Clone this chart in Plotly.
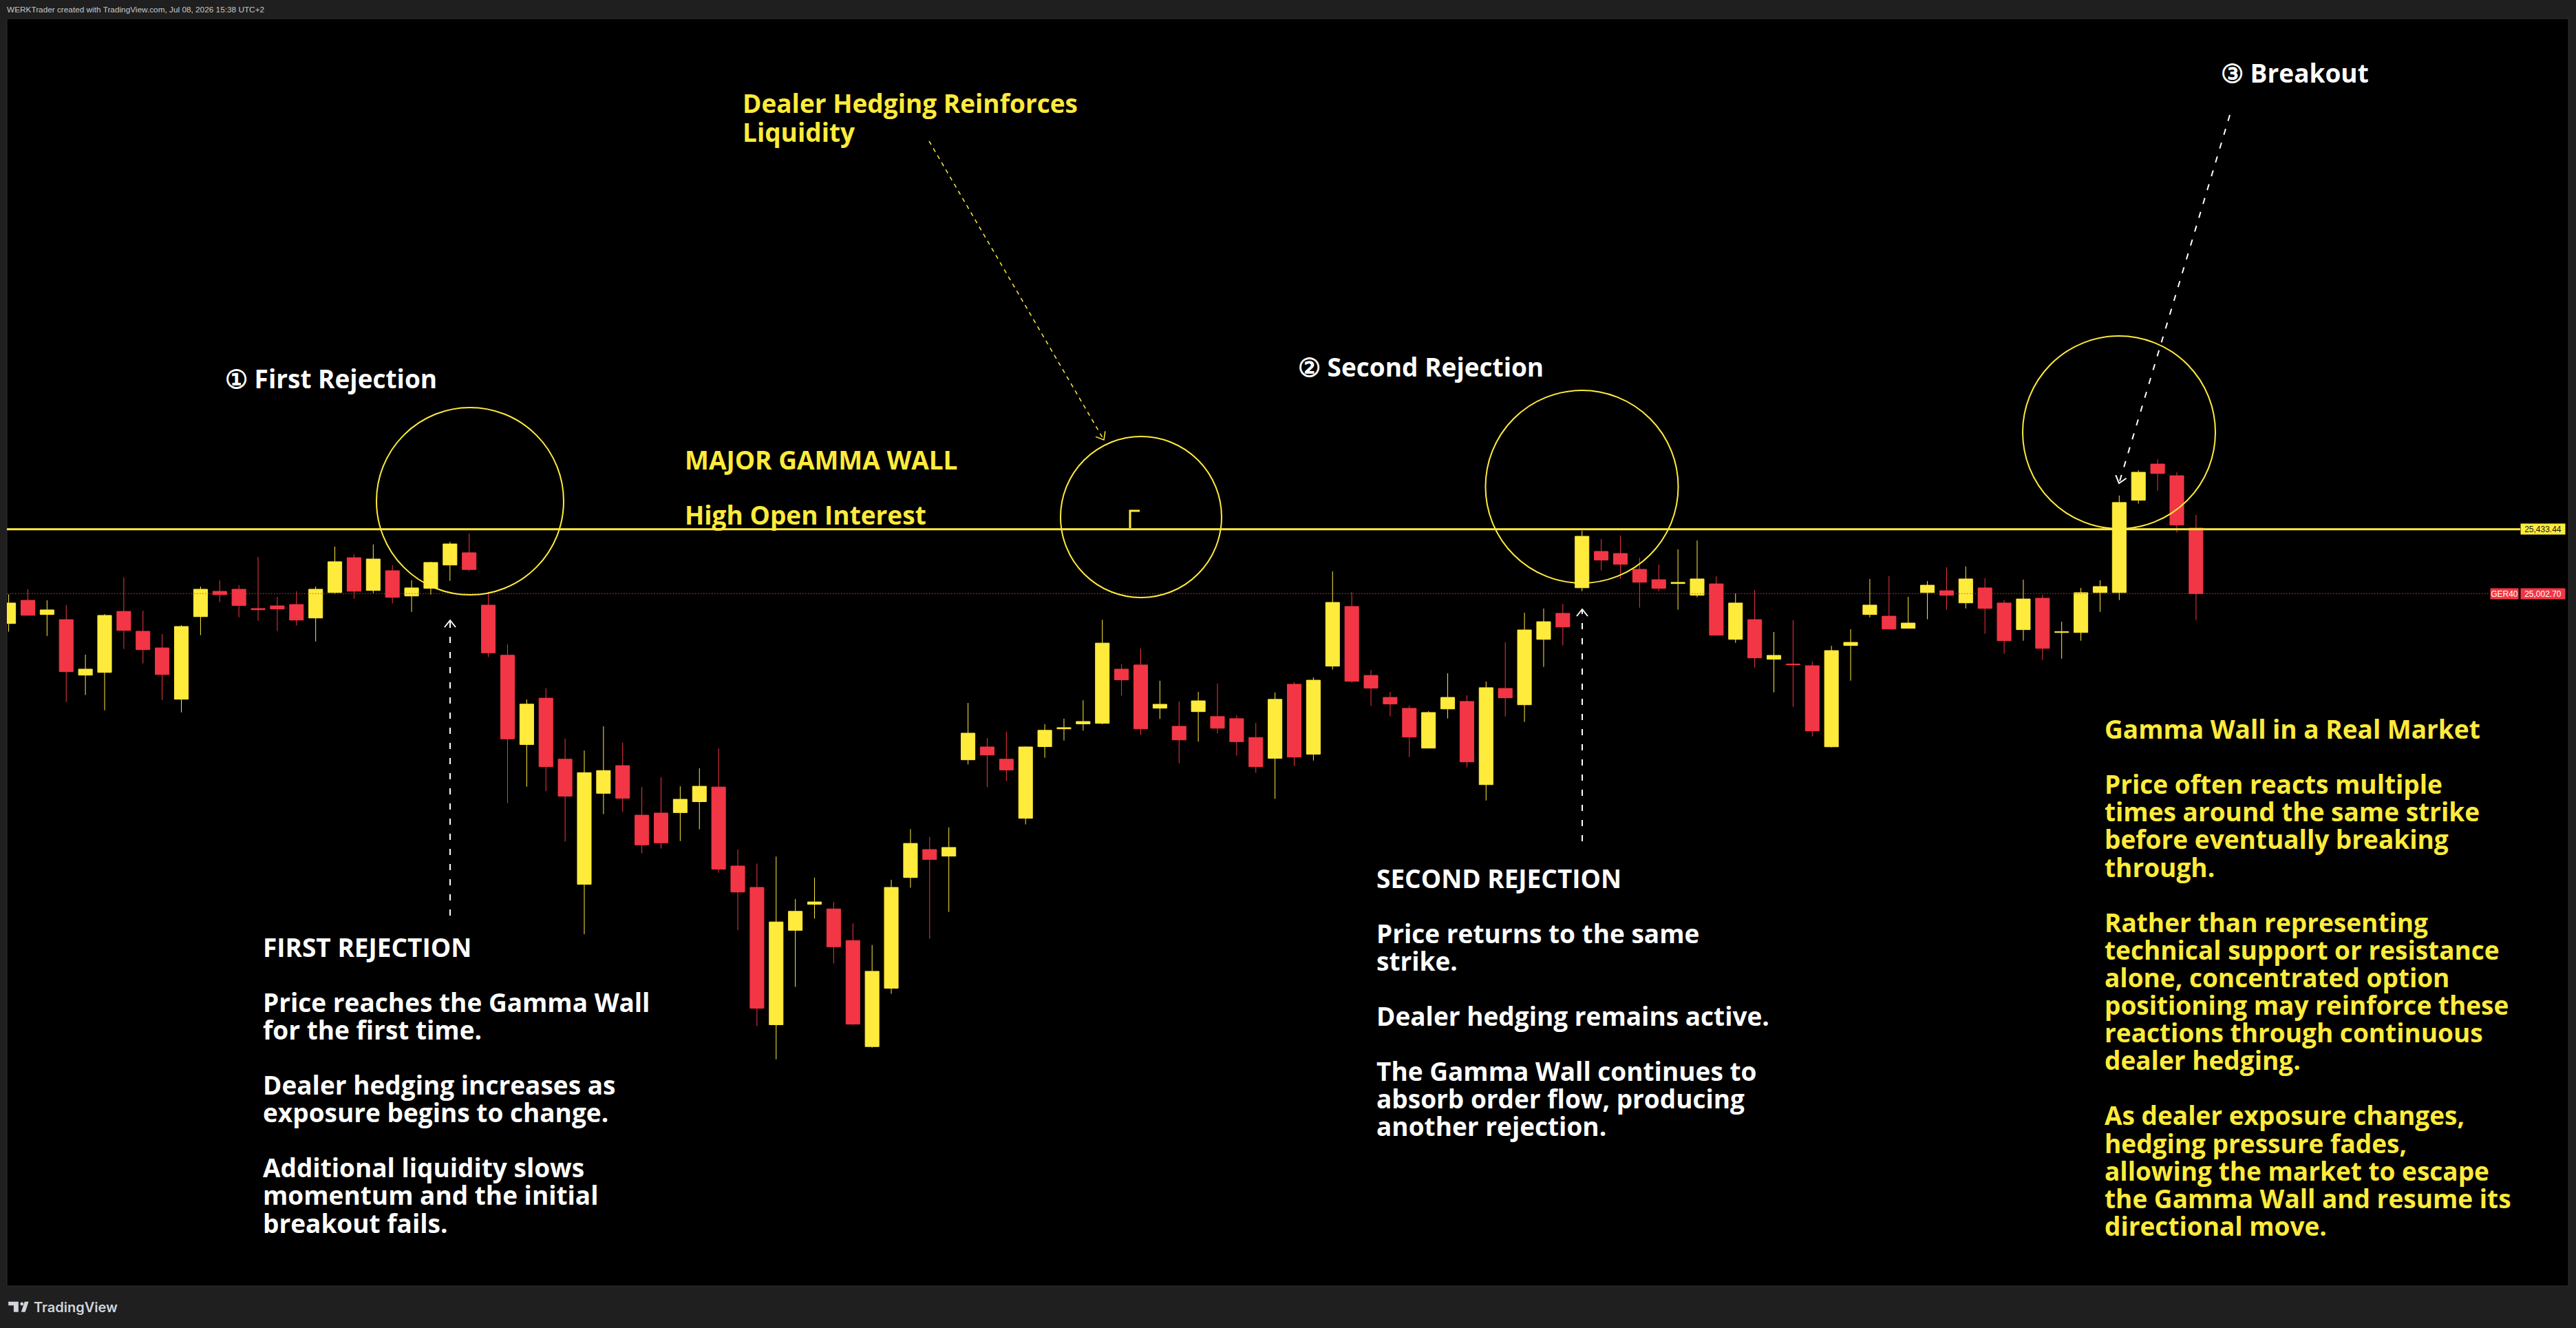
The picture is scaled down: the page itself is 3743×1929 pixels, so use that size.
import plotly.graph_objects as go

# ---------------- data ----------------
idx = list(range(115))
opens = [24803, 24958, 24863, 24829, 24458, 24476, 24884, 24751, 24640, 24297,
         24849, 25018, 25032, 24903, 24921, 24930, 24840, 25010, 25243, 25024,
         25156, 24987, 25038, 25194, 25276, 24926, 24591, 23994, 24304, 23896,
         23060, 23668, 23853, 23522, 23536, 23539, 23612, 23710, 23182, 23039,
         22121, 22752, 22926, 22895, 22684, 21975, 22365, 23105, 23292, 23248,
         23892, 23978, 23896, 23501, 23980, 24099, 24132, 24136, 24498, 24526,
         24237, 24116, 24214, 24181, 24167, 24041, 23902, 24397, 23929, 24518,
         24917, 24456, 24309, 24236, 23970, 24232, 24282, 23726, 24369, 24260,
         24697, 24871, 25042, 25285, 25271, 25165, 25096, 25070, 24992, 25068,
         24697, 24829, 24564, 24532, 24521, 23979, 24656, 24863, 24852, 24771,
         25010, 25022, 24941, 25041, 24940, 24762, 24972, 24743, 24743, 25010,
         25010, 25627, 25869, 25791, 25441]
highs = [24998, 25032, 24958, 24926, 24595, 24866, 25110, 24889, 24732, 24792,
         25050, 25092, 25059, 25248, 24981, 25018, 25050, 25317, 25266, 25331,
         25193, 25092, 25216, 25349, 25405, 25016, 24663, 24295, 24370, 24034,
         23954, 24116, 24006, 23710, 23776, 23715, 23835, 23968, 23292, 23198,
         23245, 22961, 23104, 22942, 22799, 22654, 23090, 23429, 23376, 23440,
         24272, 24037, 24079, 23982, 24130, 24167, 24290, 24828, 24531, 24635,
         24420, 24282, 24346, 24401, 24189, 24138, 24342, 24411, 24443, 25151,
         25013, 24493, 24346, 24254, 24217, 24470, 24323, 24415, 24677, 24875,
         24903, 24935, 25423, 25368, 25391, 25243, 25197, 25299, 25358, 25119,
         25004, 25027, 24746, 24825, 24548, 24654, 24765, 25101, 25119, 24981,
         25087, 25179, 25184, 25105, 24958, 25096, 24995, 24815, 25041, 25092,
         25658, 25828, 25901, 25814, 25529]
lows = [24748, 24856, 24720, 24279, 24325, 24223, 24633, 24536, 24292, 24209,
        24725, 24946, 24845, 24822, 24753, 24789, 24683, 25001, 24969, 25006,
        24937, 24881, 24996, 25088, 25152, 24579, 23602, 23712, 23682, 23346,
        22726, 23529, 23543, 23266, 23299, 23349, 23428, 23137, 22752, 22111,
        21890, 22374, 22830, 22531, 22120, 21968, 22328, 23037, 22696, 22875,
        23861, 23709, 23750, 23460, 23906, 24021, 24087, 24130, 24321, 24058,
        24165, 23869, 24013, 24068, 23920, 23805, 23631, 23850, 23887, 24495,
        24407, 24251, 24182, 23910, 23968, 24168, 23841, 23620, 24182, 24145,
        24513, 24656, 25019, 25158, 25102, 24909, 25019, 24895, 24978, 24722,
        24674, 24509, 24343, 24246, 24048, 23975, 24421, 24844, 24764, 24769,
        24831, 24895, 24904, 24734, 24601, 24688, 24559, 24568, 24688, 24881,
        24960, 25604, 25691, 25411, 24826]
closes = [24940, 24858, 24894, 24481, 24498, 24857, 24757, 24628, 24462, 24783,
          25032, 24996, 24923, 24895, 24900, 24826, 25032, 25216, 25019, 25234,
          24978, 25041, 25211, 25335, 25164, 24607, 24032, 24264, 23846, 23649,
          23806, 23820, 23635, 23323, 23337, 23628, 23715, 23161, 23008, 22231,
          22808, 22879, 22942, 22642, 22125, 22478, 23039, 23333, 23226, 23306,
          24070, 23924, 23824, 23978, 24089, 24107, 24148, 24672, 24426, 24099,
          24263, 24025, 24286, 24103, 24013, 23846, 24296, 23910, 24424, 24944,
          24417, 24371, 24265, 24044, 24208, 24309, 23878, 24374, 24306, 24760,
          24815, 24780, 25386, 25227, 25199, 25079, 25038, 25078, 25101, 24725,
          24940, 24573, 24590, 24527, 24085, 24622, 24677, 24926, 24766, 24806,
          25059, 24992, 25101, 24904, 24688, 24967, 24637, 24748, 25009, 25050,
          25612, 25814, 25806, 25461, 25002.70]

WALL_PRICE = 25433.44
LAST_PRICE = 25002.70
SYMBOL = "GER40"
wall_label = "25,433.44"
last_label = "25,002.70"
header_text = "WERKTrader created with TradingView.com, Jul 08, 2026 15:38 UTC+2"

left_lines = [(0, "FIRST REJECTION"), (2, "Price reaches the Gamma Wall"), (3, "for the first time."),
              (5, "Dealer hedging increases as"), (6, "exposure begins to change."),
              (8, "Additional liquidity slows"), (9, "momentum and the initial"),
              (10, "breakout fails.")]
mid_lines = [(0, "SECOND REJECTION"), (2, "Price returns to the same"), (3, "strike."),
             (5, "Dealer hedging remains active."), (7, "The Gamma Wall continues to"),
             (8, "absorb order flow, producing"), (9, "another rejection.")]
right_lines = [(0, "Gamma Wall in a Real Market"), (2, "Price often reacts multiple"),
               (3, "times around the same strike"), (4, "before eventually breaking"),
               (5, "through."), (7, "Rather than representing"),
               (8, "technical support or resistance"), (9, "alone, concentrated option"),
               (10, "positioning may reinforce these"), (11, "reactions through continuous"),
               (12, "dealer hedging."), (14, "As dealer exposure changes,"),
               (15, "hedging pressure fades,"), (16, "allowing the market to escape"),
               (17, "the Gamma Wall and resume its"), (18, "directional move.")]

# ---------------- styles / geometry ----------------
YEL = "#FFEB3B"
RED = "#F23645"
WHITE = "#FFFFFF"
W, H = 3743, 1929
PL, PR, PT, PB = 10, 3732, 27, 1868
X_RANGE = [-0.0933, 133.41]
Y_RANGE = [20374.46, 28846.7]
FONT = "Open Sans"
FS = 37
LINE = 40.1


def dx(px):
    return X_RANGE[0] + (px - PL) / (PR - PL) * (X_RANGE[1] - X_RANGE[0])


def dy(py):
    return Y_RANGE[1] - (py - PT) / (PB - PT) * (Y_RANGE[1] - Y_RANGE[0])


def pxp(px):
    return (px - PL) / (PR - PL)


def pyp(py):
    return (PB - py) / (PB - PT)


fig = go.Figure()
fig.add_trace(go.Candlestick(
    x=idx, open=opens, high=highs, low=lows, close=closes,
    increasing=dict(line=dict(color=YEL, width=1), fillcolor=YEL),
    decreasing=dict(line=dict(color=RED, width=1), fillcolor=RED),
    whiskerwidth=0, hoverinfo="skip", showlegend=False))

shapes = []
annotations = []

# plot frame
shapes.append(dict(type="rect", xref="paper", yref="paper", x0=0, x1=1, y0=0, y1=1,
                   line=dict(color="#303030", width=1), layer="below"))
# gamma wall + last price
shapes.append(dict(type="line", xref="paper", yref="y", x0=0, x1=pxp(3662),
                   y0=WALL_PRICE, y1=WALL_PRICE, line=dict(color=YEL, width=3)))
shapes.append(dict(type="line", xref="paper", yref="y", x0=0, x1=pxp(3618),
                   y0=LAST_PRICE, y1=LAST_PRICE, line=dict(color=RED, width=1, dash="1.5px,2.5px")))

# circles (center px, radius px)
for cx, cy, r in [(683, 728, 136), (1658, 751, 117), (2298.5, 707, 140), (3079, 628, 140)]:
    shapes.append(dict(type="circle", xref="x", yref="y", x0=dx(cx - r), x1=dx(cx + r),
                       y0=dy(cy + r), y1=dy(cy - r), line=dict(color=YEL, width=2)))

# small corner mark
shapes.append(dict(type="path", xref="x", yref="y",
                   path=f"M {dx(1642)} {dy(767)} L {dx(1642)} {dy(742)} L {dx(1656)} {dy(742)}",
                   line=dict(color=YEL, width=3)))


def arrow(tail, tip, color, width, dash):
    shapes.append(dict(type="line", xref="x", yref="y", x0=dx(tail[0]), y0=dy(tail[1]),
                       x1=dx(tip[0]), y1=dy(tip[1]), line=dict(color=color, width=width, dash=dash)))
    vx, vy = tip[0] - tail[0], tip[1] - tail[1]
    n = (vx * vx + vy * vy) ** 0.5
    ux, uy = vx / n, vy / n
    bx, by = tip[0] - 10 * ux, tip[1] - 10 * uy
    w1 = (bx - 8 * uy, by + 8 * ux)
    w2 = (bx + 8 * uy, by - 8 * ux)
    shapes.append(dict(type="path", xref="x", yref="y",
                       path=f"M {dx(w1[0])} {dy(w1[1])} L {dx(tip[0])} {dy(tip[1])} L {dx(w2[0])} {dy(w2[1])}",
                       line=dict(color=color, width=width)))


arrow((654, 1330), (654, 901), WHITE, 2, "9px,13px")
arrow((1350, 205), (1604, 639), YEL, 1.5, "6px,6px")
arrow((2299, 1222), (2299, 885), WHITE, 2, "9px,13px")
arrow((3240, 167), (3079, 702), WHITE, 2, "9px,12px")


def text(s, x, y, color, size=FS, family=FONT, weight=700):
    annotations.append(dict(text=s, xref="paper", yref="paper", x=pxp(x - 2), y=pyp(y),
                            xanchor="left", yanchor="middle", showarrow=False,
                            font=dict(family=family, size=size, color=color, weight=weight)))


text("① First Rejection", 327, 549, WHITE)
text("② Second Rejection", 1886, 532, WHITE)
text("③ Breakout", 3227, 105, WHITE)
text("MAJOR GAMMA WALL", 995, 667.5, YEL)
text("High Open Interest", 995, 747.5, YEL)
text("Dealer Hedging Reinforces", 1079, 150, YEL)
text("Liquidity", 1079, 191, YEL)
for k, s in left_lines:
    text(s, 382, 1375 + LINE * k, WHITE)
for k, s in mid_lines:
    text(s, 2000, 1275 + LINE * k, WHITE)
for k, s in right_lines:
    text(s, 3058, 1058.5 + LINE * k, YEL)


# price labels
def price_label(s, x_left, price, bg, fg, w):
    annotations.append(dict(text=s, xref="paper", yref="y", x=pxp(x_left), y=price,
                            xanchor="left", yanchor="middle", showarrow=False,
                            bgcolor=bg, borderpad=1, width=w, height=13, align="center",
                            font=dict(family="Liberation Sans", size=12, color=fg)))


price_label(wall_label, 3662, WALL_PRICE, YEL, "#131722", 62)
price_label(SYMBOL, 3618, LAST_PRICE, RED, WHITE, 38)
price_label(last_label, 3662, LAST_PRICE, RED, WHITE, 62)

# header & footer
text(header_text, 10, 14, "#c8c8c8", size=11.8, family="Liberation Sans", weight=400)
text("TradingView", 49, 1898.5, "#d1d4dc", size=20, family="Inter", weight=600)
LOGO = "#d1d4dc"
shapes.append(dict(type="path", xref="paper", yref="paper", fillcolor=LOGO, line=dict(width=0),
                   path=(f"M {pxp(12.2)} {pyp(1890.7)} L {pxp(26.8)} {pyp(1890.7)} L {pxp(26.8)} {pyp(1905.7)} "
                         f"L {pxp(19.9)} {pyp(1905.7)} L {pxp(19.9)} {pyp(1896.3)} L {pxp(12.2)} {pyp(1896.3)} Z")))
shapes.append(dict(type="circle", xref="paper", yref="paper", fillcolor=LOGO, line=dict(width=0),
                   x0=pxp(29.4), x1=pxp(34.2), y0=pyp(1896.4), y1=pyp(1891.6)))
shapes.append(dict(type="path", xref="paper", yref="paper", fillcolor=LOGO, line=dict(width=0),
                   path=(f"M {pxp(35.8)} {pyp(1890.7)} L {pxp(41.6)} {pyp(1890.7)} L {pxp(36.6)} {pyp(1905.7)} "
                         f"L {pxp(30.8)} {pyp(1905.7)} Z")))

fig.update_layout(
    width=W, height=H,
    margin=dict(l=PL, r=W - PR, t=PT, b=H - PB, pad=0),
    paper_bgcolor="#1f1f1f", plot_bgcolor="#000000",
    showlegend=False, boxgap=0.28, boxgroupgap=0,
    xaxis=dict(range=X_RANGE, visible=False, rangeslider=dict(visible=False), fixedrange=True),
    yaxis=dict(range=Y_RANGE, visible=False, fixedrange=True),
    shapes=shapes, annotations=annotations,
)

fig.write_html("out.html",
               config={"displayModeBar": False},
               post_script="document.body.style.margin='0';document.body.style.background='#1f1f1f';"
                           "document.body.style.overflow='hidden';")
